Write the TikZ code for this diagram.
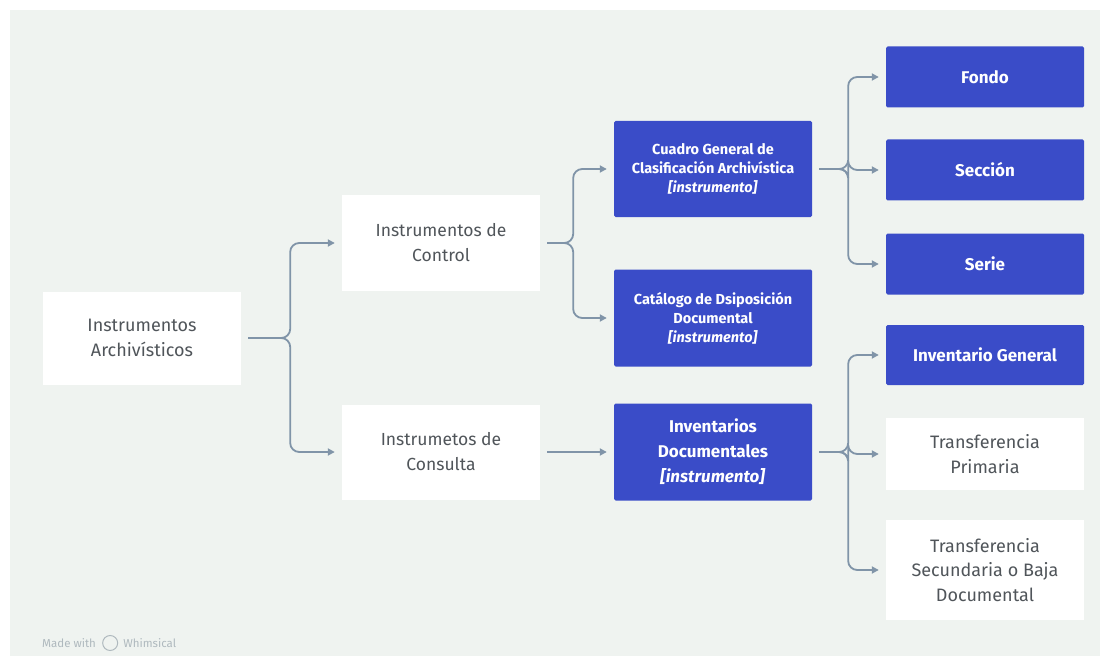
\documentclass[tikz,border=0pt]{standalone}
\usepackage{fontspec}
\setmainfont{Fira Sans}
\usetikzlibrary{arrows.meta}
\definecolor{bg}{RGB}{239,243,240}
\definecolor{boxblue}{RGB}{58,76,200}
\definecolor{conncol}{RGB}{128,148,168}
\definecolor{txtgray}{RGB}{80,85,90}
\definecolor{wmgray}{RGB}{175,185,190}
\tikzset{
  whitebox/.style={draw=none, fill=white, minimum width=198pt, align=center, text=txtgray, font=\fontsize{17.5}{25}\selectfont, inner sep=0pt},
  bluebox/.style={draw=none, fill=boxblue, rounded corners=1.5pt, minimum width=198pt, align=center, text=white, font=\bfseries\fontsize{14.5}{19}\selectfont, inner sep=0pt},
  smallblue/.style={bluebox, font=\bfseries\fontsize{17}{20}\selectfont},
  conn/.style={draw=conncol, line width=1.8pt, rounded corners=9pt, -{Triangle[length=7pt,width=7pt]}, shorten <=7pt, shorten >=7pt},
  wmtext/.style={text=wmgray, font=\fontsize{11.5}{13}\selectfont, anchor=west, inner sep=0pt},
}
\begin{document}
\begin{tikzpicture}[x=1pt,y=-1pt]
\useasboundingbox (0,0) rectangle (1109,666);
\fill[white] (0,0) rectangle (1109,666);
\fill[bg] (10,10) rectangle (1100,656);

\node[whitebox, minimum height=93pt, font=\fontsize{18}{25}\selectfont] (arch) at (142,338) {Instrumentos\\Archivísticos};
\node[whitebox, minimum height=95pt] (ctrl) at (441,243) {Instrumentos de\\Control};
\node[whitebox, minimum height=95pt] (cons) at (441,452) {Instrumetos de\\Consulta};

\node[bluebox, minimum height=96pt] (cuadro) at (713,169) {Cuadro General de\\Clasificación Archivística\\\textit{[instrumento]}};
\node[bluebox, minimum height=97pt] (catal) at (713,318) {Catálogo de Dsiposición\\Documental\\\textit{[instrumento]}};
\node[bluebox, minimum height=97pt, font=\bfseries\fontsize{17}{25}\selectfont] (invd) at (713,452) {Inventarios\\Documentales\\\textit{[instrumento]}};

\node[smallblue, minimum height=61pt] (fondo) at (985,77) {Fondo};
\node[smallblue, minimum height=61pt] (secc) at (985,170) {Sección};
\node[smallblue, minimum height=61pt] (serie) at (985,264) {Serie};
\node[smallblue, minimum height=60pt] (invg) at (985,355) {Inventario General};
\node[whitebox, minimum height=72pt, font=\fontsize{18}{24.5}\selectfont] (tprim) at (985,454) {Transferencia\\Primaria};
\node[whitebox, minimum height=100pt, font=\fontsize{18}{24.5}\selectfont] (tsec) at (985,570) {Transferencia\\Secundaria o Baja\\Documental};

% connectors
\draw[conn] (arch.east) -- ++(49,0) |- (ctrl.west);
\draw[conn] (arch.east) -- ++(49,0) |- (cons.west);
\draw[conn] (ctrl.east) -- ++(33,0) |- (cuadro.west);
\draw[conn] (ctrl.east) -- ++(33,0) |- (catal.west);
\draw[conn] (cons.east) -- (invd.west);
\draw[conn] (cuadro.east) -- ++(36,0) |- (fondo.west);
\draw[conn] (cuadro.east) -- ++(36,0) |- (secc.west);
\draw[conn] (cuadro.east) -- ++(36,0) |- (serie.west);
\draw[conn] (invd.east) -- ++(36,0) |- (invg.west);
\draw[conn] (invd.east) -- ++(36,0) |- (tprim.west);
\draw[conn] (invd.east) -- ++(36,0) |- (tsec.west);

% watermark
\node[wmtext] (made) at (42,643) {Made with};
\node[draw=wmgray, line width=1pt, circle, minimum size=15pt, inner sep=0pt] (logo) at ([xshift=14pt]made.east) {};
\node[wmtext] (whim) at ([xshift=5pt]logo.east) {Whimsical};
\end{tikzpicture}
\end{document}
